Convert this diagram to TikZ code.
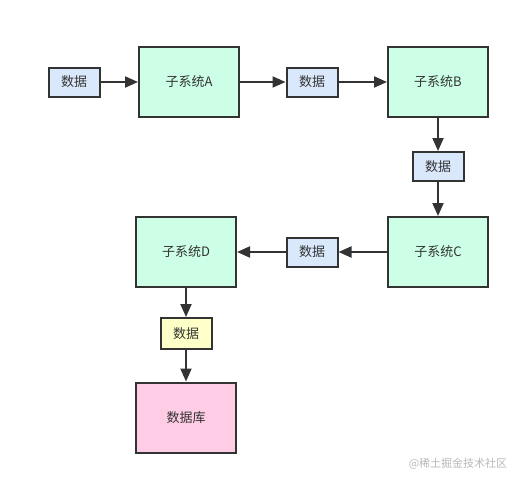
\documentclass[tikz,border=0pt]{standalone}
\usepackage{fontspec}
\newfontfamily\cjk{Noto Sans CJK SC}
\usetikzlibrary{arrows.meta, positioning}
\definecolor{linegray}{HTML}{333333}
\definecolor{datablue}{HTML}{DAE8FC}
\definecolor{sysgreen}{HTML}{CCFFE6}
\definecolor{datayellow}{HTML}{FFFFC8}
\definecolor{dbpink}{HTML}{FFCCE6}
\tikzset{
  sys/.style={draw=linegray, line width=2pt, fill=sysgreen, minimum width=100pt, minimum height=70pt},
  data/.style={draw=linegray, line width=2pt, fill=datablue, minimum width=51pt, minimum height=29pt},
  flow/.style={draw=linegray, line width=2pt, -{Triangle[length=13pt,width=11pt]}}
}

\begin{document}
\begin{tikzpicture}[x=1pt, y=-1pt, font=\cjk\fontsize{13}{15}\selectfont, text=linegray]
\useasboundingbox[fill=white] (0,0) rectangle (521,485);
% first row
\node[data] (d1) at (74, 82) {数据};
\node[sys] (sa) at (189, 82) {子系统A};
\node[data] (d2) at (312, 82) {数据};
\node[sys] (sb) at (438, 82) {子系统B};
% right column
\node[data] (d3) at (438, 166.5) {数据};
\node[sys] (sc) at (438, 252) {子系统C};
% second row
\node[data] (d4) at (312, 252) {数据};
\node[sys] (sd) at (186, 252) {子系统D};
% down to the database
\node[data, fill=datayellow, minimum height=31pt] (d5) at (186, 333.5) {数据};
\node[sys, fill=dbpink] (db) at (186, 417.5) {数据库};

\draw[flow] (d1) -- (sa);
\draw[flow] (sa) -- (d2);
\draw[flow] (d2) -- (sb);
\draw[flow] (sb) -- (d3);
\draw[flow] (d3) -- (sc);
\draw[flow] (sc) -- (d4);
\draw[flow] (d4) -- (sd);
\draw[flow] (sd) -- (d5);
\draw[flow] (d5) -- (db);

\node[text=gray!55, font=\cjk\fontsize{11}{13}\selectfont] (mark) at (458, 464) {@稀土掘金技术社区};
\end{tikzpicture}
\end{document}
